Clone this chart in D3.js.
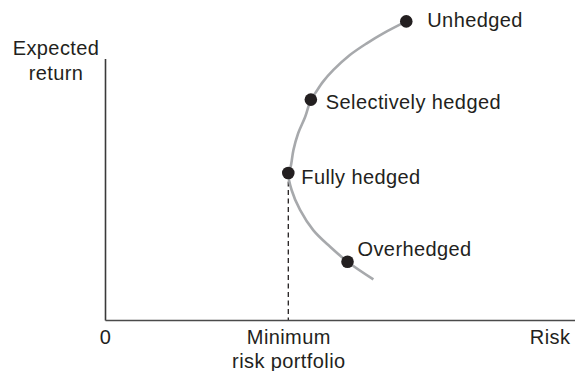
<!DOCTYPE html>
<html><head><meta charset="utf-8">
<script src="https://cdn.jsdelivr.net/npm/d3@7"></script>
<style>
html,body{margin:0;padding:0;background:#fff;}
svg{display:block;font-family:"Liberation Sans",Arial,Helvetica,sans-serif;}
</style></head>
<body>
<script>
// Frontier curve (risk, expected return in arbitrary units)
const frontierRisk   = [6.41, 5.92, 5.57, 5.21, 4.86, 4.64, 4.47, 4.38, 4.26, 4.11, 4.01, 3.95, 3.90, 3.97, 4.15, 4.43, 4.79, 5.16, 5.71];
const frontierReturn = [11.99, 11.51, 11.11, 10.64, 10.04, 9.57, 9.10, 8.85, 8.16, 7.50, 6.83, 6.16, 5.90, 5.22, 4.42, 3.61, 2.94, 2.34, 1.63];

// Labelled portfolios
const portfolioNames  = ["Unhedged", "Selectively hedged", "Fully hedged", "Overhedged"];
const portfolioRisk   = [6.41, 4.38, 3.90, 5.16];
const portfolioReturn = [11.99, 8.85, 5.90, 2.34];

// Axis labels
const xTickValues = [0, 3.90, 9.46];
const xTickLabels = [["0"], ["Minimum", "risk portfolio"], ["Risk"]];
const yAxisLabel = ["Expected", "return"];
const yAxisMax = 10.5;

const W = 575, H = 371;
const x = d3.scaleLinear().domain([0, 10]).range([105, 575]);
const y = d3.scaleLinear().domain([0, yAxisMax]).range([320, 58.5]);

const svg = d3.select("body").append("svg").attr("width", W).attr("height", H);
const txt = "#231f20";
const fontSize = 20;

// dashed line at minimum risk
const minIdx = portfolioNames.indexOf("Fully hedged");
svg.append("line")
  .attr("x1", x(portfolioRisk[minIdx])).attr("x2", x(portfolioRisk[minIdx]))
  .attr("y1", y(portfolioReturn[minIdx])).attr("y2", y(0))
  .attr("stroke", txt).attr("stroke-width", 1.3).attr("stroke-dasharray", "5,3.5");

// y axis
const yAxis = d3.axisLeft(y).tickValues([]).tickSizeOuter(0);
svg.append("g").attr("transform", `translate(${x(0)},0)`).call(yAxis)
  .call(g => g.select(".domain").attr("stroke", "#3a3a3a").attr("stroke-width", 1.6));

// x axis
const xAxis = d3.axisBottom(x).tickValues(xTickValues).tickSize(0).tickSizeOuter(0).tickPadding(0)
  .tickFormat(() => "");
const gx = svg.append("g").attr("transform", `translate(0,${y(0)})`).call(xAxis);
gx.select(".domain").attr("stroke", "#4a4a4a").attr("stroke-width", 1.6);
gx.selectAll(".tick text").remove();
gx.selectAll(".tick").each(function(d, i) {
  const t = d3.select(this).append("text")
    .attr("text-anchor", "middle").attr("fill", txt)
    .style("font-size", fontSize + "px").style("letter-spacing", "0.4px");
  xTickLabels[i].forEach((line, j) => {
    t.append("tspan").attr("x", 0).attr("y", 24 + j * 23.5).text(line);
  });
});

// y axis label
const yl = svg.append("text").attr("text-anchor", "middle").attr("fill", txt)
  .style("font-size", fontSize + "px").style("letter-spacing", "0.4px");
yAxisLabel.forEach((line, j) => {
  yl.append("tspan").attr("x", 56).attr("y", 55 + j * 25).text(line);
});

// frontier curve
const pts = frontierRisk.map((r, i) => [r, frontierReturn[i]]);
svg.append("path").datum(pts)
  .attr("fill", "none").attr("stroke", "#a7a9ac").attr("stroke-width", 2.6)
  .attr("d", d3.line().x(d => x(d[0])).y(d => y(d[1])).curve(d3.curveCatmullRom.alpha(0.5)));

// portfolio points
const ports = portfolioNames.map((n, i) => ({name: n, risk: portfolioRisk[i], ret: portfolioReturn[i]}));
const labelOffsets = [[21, 6], [15, 9.5], [13, 11], [10, -5.5]];
svg.selectAll("circle.p").data(ports).enter().append("circle")
  .attr("cx", d => x(d.risk)).attr("cy", d => y(d.ret)).attr("r", 6.3).attr("fill", txt);
svg.selectAll("text.p").data(ports).enter().append("text")
  .attr("x", (d, i) => x(d.risk) + labelOffsets[i][0])
  .attr("y", (d, i) => y(d.ret) + labelOffsets[i][1])
  .attr("fill", txt).style("font-size", fontSize + "px").style("letter-spacing", "0.4px")
  .text(d => d.name);
</script>
</body></html>
